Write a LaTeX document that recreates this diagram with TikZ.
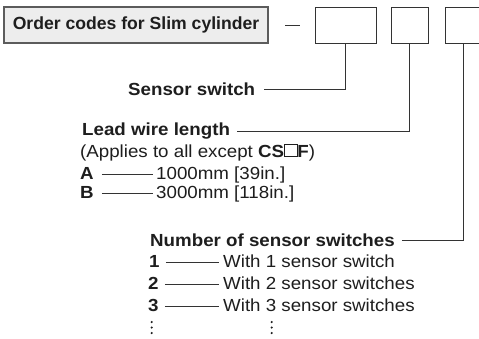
\documentclass[tikz,border=0pt]{standalone}
\usepackage{fontspec}
\setmainfont[FakeStretch=1.07]{Liberation Sans}
\newfontfamily\titlefont{Liberation Sans}
\definecolor{ink}{HTML}{1E1E1E}
\definecolor{linec}{HTML}{333333}
\definecolor{titlefill}{HTML}{EDEDED}
\begin{document}
\begin{tikzpicture}[x=1pt,y=-1pt,
  txt/.style={inner sep=0pt,anchor=base west,text=ink,font=\fontsize{17.5}{21}\selectfont},
  bld/.style={txt,font=\fontsize{17.5}{21}\selectfont\bfseries},
  codebox/.style={draw=linec,line width=1pt,fill=white,inner sep=0pt,minimum height=36pt},
  titlebox/.style={draw=linec!80,line width=1.3pt,fill=titlefill,inner sep=0pt,minimum width=264pt,minimum height=36pt,text=ink,font=\titlefont\fontsize{17.6}{21}\selectfont\bfseries},
  conn/.style={draw=linec,line width=0.9pt},
  dotc/.style={fill=ink,draw=none}]
\useasboundingbox (0,0) rectangle (479,338);
\fill[white] (0,0) rectangle (479,338);
% header
\node[titlebox] (title) at (136,25) {Order codes for Slim cylinder};
\coordinate (dashA) at (285,25);
\coordinate (dashB) at (300,25);
\draw[conn] (dashA) -- (dashB);
\node[codebox,minimum width=61pt] (b1) at (345.5,25) {};
\node[codebox,minimum width=37pt] (b2) at (409.5,25) {};
\node[codebox,minimum width=37pt] (b3) at (463.5,25) {};
% sensor switch
\node[bld] (ss) at (128,95) {Sensor switch};
\draw[conn] ([shift={(9,-6)}]ss.base east) -| (b1.south);
% lead wire
\node[bld] (lw) at (82,135) {Lead wire length};
\node[txt] (ap) at (80,157) {(Applies to all except \textbf{CS}\raisebox{0.2pt}{\tikz[x=1pt,y=1pt]\draw[line width=0.8pt,draw=ink] (0,0) rectangle (12.5,12.5);}\textbf{F})};
\draw[conn] ([shift={(7,-3.5)}]lw.base east) -| (b2.south);
\node[bld] (kA) at (80,179) {A};
\node[txt] (vA) at (156,179) {1000mm [39in.]};
\draw[conn] ([shift={(8,-5)}]kA.base east) -- ([shift={(-3,-5)}]vA.base west);
\node[bld] (kB) at (80,198) {B};
\node[txt] (vB) at (156,198) {3000mm [118in.]};
\draw[conn] ([shift={(8,-5)}]kB.base east) -- ([shift={(-3,-5)}]vB.base west);
% number of sensor switches
\node[bld] (ns) at (150,246.5) {Number of sensor switches};
\draw[conn] ([shift={(7,-6.5)}]ns.base east) -| (b3.south);
\node[bld] (k1) at (149,267) {1};
\node[txt] (v1) at (223,267) {With 1 sensor switch};
\draw[conn] ([shift={(6,-5)}]k1.base east) -- ([shift={(-4,-5)}]v1.base west);
\node[bld] (k2) at (148,289) {2};
\node[txt] (v2) at (223,289) {With 2 sensor switches};
\draw[conn] ([shift={(6,-5)}]k2.base east) -- ([shift={(-4,-5)}]v2.base west);
\node[bld] (k3) at (148,311) {3};
\node[txt] (v3) at (223,311) {With 3 sensor switches};
\draw[conn] ([shift={(6,-5)}]k3.base east) -- ([shift={(-4,-5)}]v3.base west);
% vertical ellipses
\foreach \yy in {322,327.5,333} {
  \fill[dotc] (151.7,\yy) circle (1.2);
  \fill[dotc] (271.7,\yy) circle (1.2);
}
\end{tikzpicture}
\end{document}
